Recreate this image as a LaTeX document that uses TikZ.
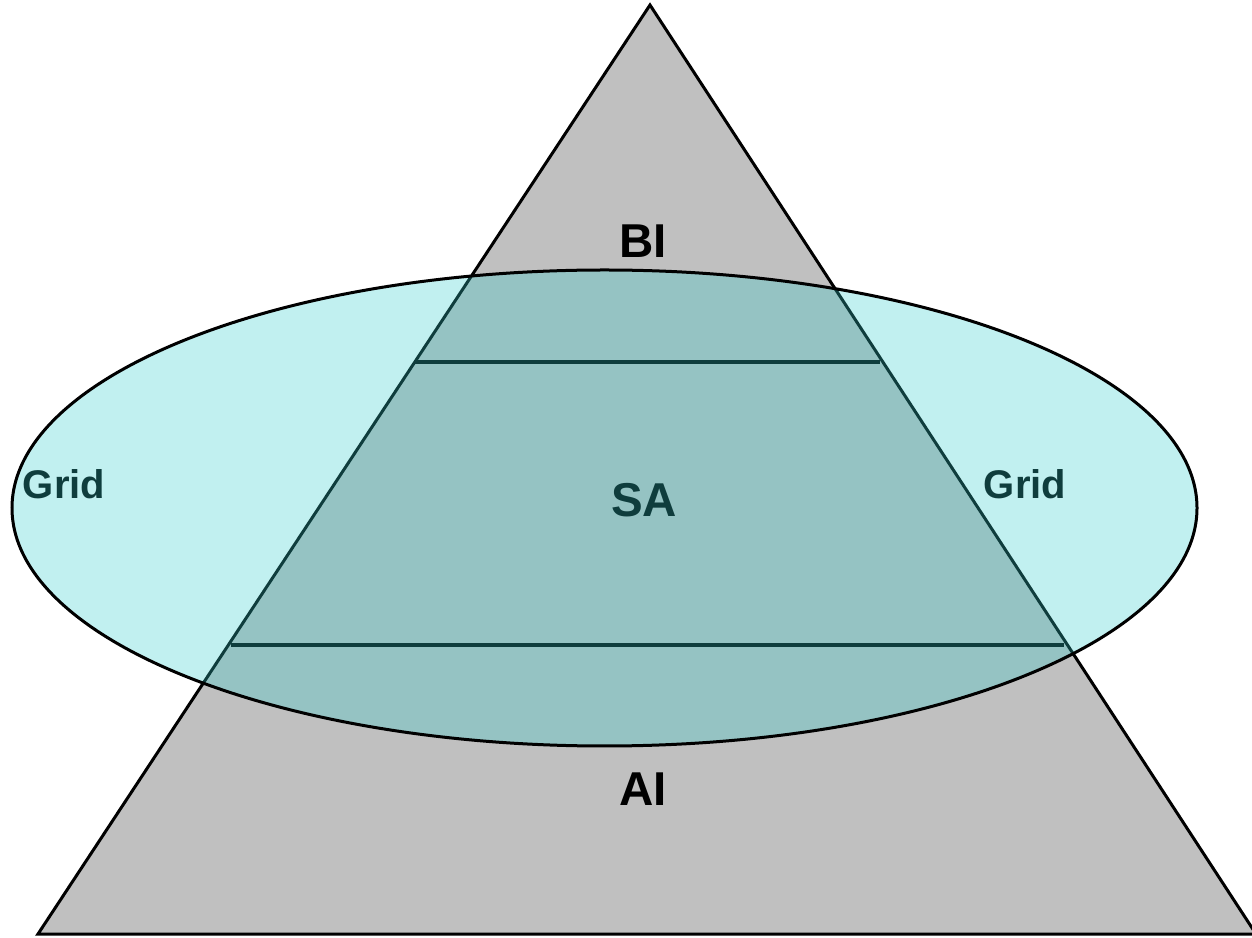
\documentclass[tikz,border=0pt]{standalone}
\usepackage{fontspec}
\setmainfont{Liberation Sans}
\definecolor{ellcyan}{RGB}{51,204,204}
\definecolor{trigray}{RGB}{192,192,192}
\begin{document}
\begin{tikzpicture}[x=1pt,y=1pt,
  lbl/.style={font=\fontsize{47.5}{52}\selectfont\bfseries, inner sep=0pt},
  gridlbl/.style={font=\fontsize{40}{44}\selectfont\bfseries, inner sep=0pt},
  level/.style={draw=black, line width=3.5pt}]
\useasboundingbox (0,0) rectangle (1252,937);
\coordinate (apex) at (650,932);
\coordinate (bl) at (38,3);
\coordinate (br) at (1256,3);
\draw[fill=trigray, line width=3pt, line join=miter] (apex) -- (bl) -- (br) -- cycle;
\coordinate (l1a) at (415,575);
\coordinate (l1b) at (880,575);
\coordinate (l2a) at (231,292);
\coordinate (l2b) at (1064,292);
\draw[level] (l1a) -- (l1b);
\draw[level] (l2a) -- (l2b);
\node[lbl] (bi) at (643,696) {BI};
\node[lbl] (ai) at (643,148) {AI};
\node[lbl] (sa) at (644,437) {SA};
\node[gridlbl] (gl) at (64,453) {Grid};
\node[gridlbl] (gr) at (1025,453) {Grid};
\coordinate (ec) at (604.5,429);
\draw[line width=3pt, fill=ellcyan, fill opacity=0.3] (ec) ellipse [x radius=592.5, y radius=238];
\end{tikzpicture}
\end{document}
